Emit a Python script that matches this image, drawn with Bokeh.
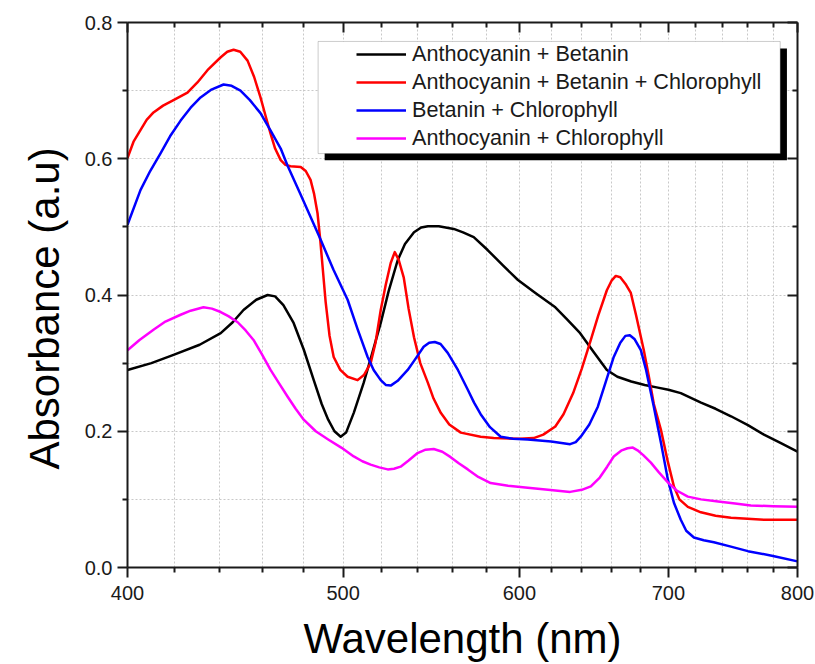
from bokeh.plotting import figure
from bokeh.models import (Range1d, FixedTicker, PrintfTickFormatter, LinearAxis, LogAxis,
                          BoxAnnotation, Legend, LegendItem, Title, CustomLabelingPolicy)
from bokeh.embed import file_html
from bokeh.resources import INLINE

# ---------------- data ----------------
wl_ab = [400, 410, 419.5, 431, 440.5, 446, 451, 457, 462.4, 466, 470, 475, 480, 485, 489,
         492.3, 495.5, 498.7, 501.5, 505.5, 510.7, 515, 519.8, 524, 529, 533, 538, 542, 545.8,
         552, 560.6, 566, 572.3, 580.6, 590, 599.1, 610, 622.7, 630, 638.9, 648, 656.8, 664,
         673.6, 683, 692.4, 700, 709, 724, 735, 746.8, 760, 772.7, 786, 800]
abs_ab = [0.290, 0.300, 0.312, 0.327, 0.344, 0.360, 0.378, 0.393, 0.400, 0.398, 0.385, 0.359,
          0.320, 0.275, 0.240, 0.217, 0.200, 0.192, 0.198, 0.227, 0.271, 0.312, 0.359, 0.405,
          0.451, 0.475, 0.492, 0.499, 0.501, 0.501, 0.497, 0.492, 0.485, 0.466, 0.443, 0.422,
          0.403, 0.382, 0.365, 0.344, 0.316, 0.290, 0.280, 0.273, 0.268, 0.264, 0.261, 0.256,
          0.242, 0.233, 0.222, 0.209, 0.195, 0.183, 0.170]

wl_abc = [400, 402.5, 405.4, 408, 410.9, 415, 419.5, 425.6, 430, 434.5, 440.5, 443.5, 446.4,
          449.5, 452.9, 456, 459, 461.5, 463.8, 466, 468.7, 471, 473.5, 478.5, 481, 483.4,
          485.2, 486.9, 488.3, 489.5, 491, 493, 495.1, 498.5, 502.3, 507.5, 511, 514.4, 517,
          519.8, 522.5, 525.2, 527.4, 529.5, 532.3, 535, 538, 541.5, 545.8, 549, 553.1, 558,
          564.7, 576.4, 584.2, 600, 608.9, 615, 622.7, 628, 634.3, 640, 646, 651, 656.8, 660,
          662.9, 666, 670, 673.3, 677, 682.4, 686, 689.5, 694.6, 699.6, 704, 708, 714.2, 723.9,
          735, 746.8, 772.7, 800]
abs_abc = [0.601, 0.625, 0.642, 0.657, 0.668, 0.678, 0.686, 0.697, 0.712, 0.730, 0.749, 0.757,
           0.760, 0.757, 0.744, 0.720, 0.690, 0.662, 0.637, 0.615, 0.598, 0.591, 0.589, 0.588,
           0.582, 0.569, 0.548, 0.520, 0.480, 0.440, 0.390, 0.340, 0.309, 0.290, 0.280, 0.275,
           0.283, 0.300, 0.330, 0.378, 0.415, 0.447, 0.463, 0.452, 0.426, 0.380, 0.338, 0.300,
           0.271, 0.248, 0.227, 0.210, 0.198, 0.192, 0.190, 0.189, 0.190, 0.195, 0.207, 0.225,
           0.256, 0.292, 0.334, 0.370, 0.407, 0.421, 0.428, 0.426, 0.415, 0.403, 0.370, 0.319,
           0.280, 0.240, 0.202, 0.155, 0.119, 0.100, 0.089, 0.081, 0.076, 0.073, 0.070, 0.070]

wl_bc = [400, 405.4, 409.5, 413.9, 418, 422.6, 427, 431.4, 436, 441.8, 445.5, 449.6, 454, 459,
         463.5, 468.7, 472, 478.5, 488.5, 495, 502.3, 507.5, 512.8, 516, 519.8, 522.5, 525.2,
         529, 534.5, 539, 543.4, 546.5, 549.7, 553, 557.1, 563, 568.8, 572.5, 576.4, 582,
         588.5, 596, 605.2, 620, 632.3, 636, 639.3, 645, 650.7, 656, 661.5, 666, 669.5, 672.6,
         676, 680.3, 684, 689.5, 694.6, 699.6, 704, 709, 713, 718.7, 726, 733.7, 746, 760,
         780, 800]
abs_bc = [0.503, 0.554, 0.582, 0.608, 0.633, 0.656, 0.675, 0.690, 0.701, 0.709, 0.707, 0.700,
          0.686, 0.667, 0.643, 0.615, 0.590, 0.547, 0.481, 0.437, 0.393, 0.350, 0.309, 0.290,
          0.275, 0.268, 0.267, 0.274, 0.290, 0.307, 0.324, 0.330, 0.331, 0.328, 0.315, 0.290,
          0.261, 0.242, 0.225, 0.206, 0.192, 0.189, 0.188, 0.185, 0.181, 0.184, 0.192, 0.210,
          0.236, 0.272, 0.309, 0.330, 0.340, 0.341, 0.335, 0.319, 0.290, 0.236, 0.183, 0.129,
          0.095, 0.070, 0.054, 0.044, 0.040, 0.037, 0.031, 0.024, 0.017, 0.009]

wl_ac = [400, 405, 410.9, 416, 422.6, 427, 432.7, 436.5, 440.5, 444, 448.3, 452, 455.7, 459.5,
         463.8, 468, 472, 476, 480, 486, 492.3, 499, 505.5, 510, 514.4, 519, 523.6, 527, 530.6,
         535, 540, 544.5, 549.1, 554, 558.8, 563.5, 568.8, 575, 582.4, 593, 605.2, 618, 632.3,
         640, 646, 652, 657, 661.5, 667, 671, 674.7, 678, 682, 687.4, 693, 699.6, 706, 714.2,
         724, 736.9, 750, 762.3, 780, 800]
abs_ac = [0.319, 0.334, 0.349, 0.361, 0.371, 0.377, 0.382, 0.380, 0.375, 0.369, 0.360, 0.348,
          0.334, 0.314, 0.290, 0.270, 0.251, 0.233, 0.217, 0.200, 0.188, 0.176, 0.163, 0.156,
          0.151, 0.147, 0.144, 0.145, 0.148, 0.157, 0.168, 0.173, 0.174, 0.170, 0.162, 0.153,
          0.144, 0.133, 0.124, 0.120, 0.117, 0.114, 0.111, 0.114, 0.119, 0.132, 0.148, 0.163,
          0.172, 0.175, 0.176, 0.172, 0.165, 0.154, 0.140, 0.125, 0.113, 0.104, 0.100, 0.097,
          0.094, 0.091, 0.090, 0.089]

series_names = ["Anthocyanin + Betanin", "Anthocyanin + Betanin + Chlorophyll",
                "Betanin + Chlorophyll", "Anthocyanin + Chlorophyll"]

x_major = [400, 500, 600, 700, 800]
x_minor = [420, 440, 460, 480, 520, 540, 560, 580, 620, 640, 660, 680, 720, 740, 760, 780]
y_major = [0.0, 0.2, 0.4, 0.6, 0.8]
y_minor = [0.1, 0.3, 0.5, 0.7]

# ---------------- styling ----------------
FONT = "Liberation Sans"
colors = ["#000000", "#ff0000", "#0000ff", "#ff00ff"]

p = figure(width=815, height=664, x_axis_type="log",
           x_range=Range1d(400, 800), y_range=Range1d(0, 0.8),
           output_backend="svg", toolbar_location=None,
           min_border_left=127, min_border_right=18, min_border_top=22, min_border_bottom=96,
           outline_line_color=None, background_fill_color="white", border_fill_color="white")

# grid
p.xgrid.ticker = FixedTicker(ticks=sorted(x_major + x_minor))
p.ygrid.ticker = FixedTicker(ticks=sorted(y_major + y_minor))
for g in (p.xgrid, p.ygrid):
    g.grid_line_color = "#c8c8c8"
    g.grid_line_dash = "2 2"
    g.grid_line_width = 1

hide_labels = CustomLabelingPolicy(
    code="for (let i = 0; i < indices.size; i++) { indices.unset(i) }; return indices")

def style_axis(ax, inside=False):
    ax.axis_line_width = 2
    ax.axis_line_color = "#1a1a1a"
    ax.major_tick_line_width = 2
    ax.minor_tick_line_width = 2
    ax.major_tick_line_color = "#1a1a1a"
    ax.minor_tick_line_color = "#1a1a1a"
    if inside:
        ax.major_tick_in, ax.major_tick_out = 10, 0
        ax.minor_tick_in, ax.minor_tick_out = 5, 0
        ax.major_label_text_font_size = "2px"
        ax.major_label_standoff = 0
        ax.major_label_policy = hide_labels
    else:
        ax.major_tick_in, ax.major_tick_out = 0, 10
        ax.minor_tick_in, ax.minor_tick_out = 0, 5
        ax.major_label_text_font_size = "20px"
        ax.major_label_text_font = FONT
        ax.major_label_text_color = "#1a1a1a"
        ax.major_label_standoff = 5

xb = p.xaxis[0]
xb.ticker = FixedTicker(ticks=x_major, minor_ticks=x_minor)
xb.formatter = PrintfTickFormatter(format="%d")
style_axis(xb)
xb.major_label_standoff = 8
xb.axis_label = "Wavelength (nm)"
xb.axis_label_text_font = FONT
xb.axis_label_text_font_size = "42px"
xb.axis_label_text_font_style = "normal"
xb.axis_label_text_color = "#000000"
xb.axis_label_standoff = 12

yl = p.yaxis[0]
yl.ticker = FixedTicker(ticks=y_major, minor_ticks=y_minor)
yl.formatter = PrintfTickFormatter(format="%.1f")
style_axis(yl)

xt = LogAxis(ticker=FixedTicker(ticks=x_major, minor_ticks=x_minor))
style_axis(xt, inside=True)
p.add_layout(xt, "above")
yr = LinearAxis(ticker=FixedTicker(ticks=y_major, minor_ticks=y_minor))
style_axis(yr, inside=True)
p.add_layout(yr, "right")

# y-axis title: a side title, anchored from the bottom of the frame
ytitle = Title(text="Absorbance (a.u)", align="left", offset=98, standoff=28,
               text_font=FONT, text_font_size="42px", text_font_style="normal",
               text_color="#000000")
p.add_layout(ytitle, "left")

# curves
data = [(wl_ab, abs_ab), (wl_abc, abs_abc), (wl_bc, abs_bc), (wl_ac, abs_ac)]
renderers = []
for (xs, ys), c in zip(data, colors):
    r = p.line(xs, ys, line_color=c, line_width=2.5, line_join="round")
    renderers.append(r)

# legend frame with drop shadow
shadow = BoxAnnotation(left=490.5, right=791.3, top=0.7619, bottom=0.5978,
                       fill_color="black", fill_alpha=1.0, line_color=None)
box = BoxAnnotation(left=487.2, right=785.8, top=0.7722, bottom=0.6076,
                    fill_color="white", fill_alpha=1.0, line_color="#555555", line_width=1)
p.add_layout(shadow)
p.add_layout(box)

legend = Legend(items=[LegendItem(label=n, renderers=[r]) for n, r in zip(series_names, renderers)],
                location=(229, 416), orientation="vertical",
                padding=0, margin=0, spacing=2,
                glyph_width=50, glyph_height=24, label_height=24, label_standoff=6,
                label_text_font=FONT, label_text_font_size="21.6px", label_text_color="#1a1a1a",
                border_line_alpha=0, background_fill_alpha=0)
p.add_layout(legend, "center")

open("out.html", "w").write(file_html(p, INLINE))
